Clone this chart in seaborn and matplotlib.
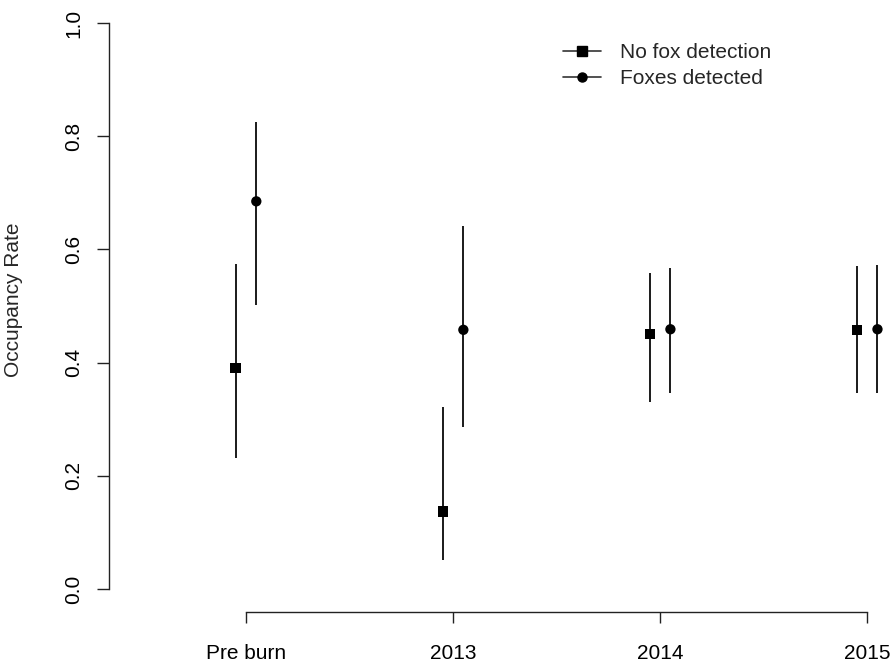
import numpy as np
import pandas as pd
import matplotlib
matplotlib.use("Agg")
import matplotlib.pyplot as plt
from matplotlib.lines import Line2D
import seaborn as sns

# ---- data ----
periods = ["Pre burn", "2013", "2014", "2015"]
groups = ["No fox detection", "Foxes detected"]

nofox_est = [0.390, 0.137, 0.451, 0.458]
nofox_lo = [0.231, 0.051, 0.330, 0.346]
nofox_hi = [0.575, 0.321, 0.558, 0.570]

fox_est = [0.685, 0.458, 0.459, 0.459]
fox_lo = [0.502, 0.287, 0.347, 0.346]
fox_hi = [0.825, 0.641, 0.567, 0.572]

yticks = [0.0, 0.2, 0.4, 0.6, 0.8, 1.0]
ytick_labels = ["0.0", "0.2", "0.4", "0.6", "0.8", "1.0"]
ylabel = "Occupancy Rate"

# ---- table ----
offsets = {"No fox detection": -0.05, "Foxes detected": 0.05}
rows = []
for g, est, lo, hi in [(groups[0], nofox_est, nofox_lo, nofox_hi),
                       (groups[1], fox_est, fox_lo, fox_hi)]:
    for i, p in enumerate(periods):
        rows.append(dict(period=p, group=g, pos=i + 1 + offsets[g],
                         est=est[i], lo=lo[i], hi=hi[i]))
df = pd.DataFrame(rows)

# ---- style ----
sns.set_style("ticks")
plt.rcParams["font.family"] = ["Liberation Sans", "DejaVu Sans"]
FS = 15

W, H = 893, 664
fig = plt.figure(figsize=(W / 100, H / 100), dpi=100)
left_px, bottom_px = 109.3, 611.7
ax = fig.add_axes([left_px / W, 1 - bottom_px / H, (W - left_px) / W, 611.3 / H])

# error bars
ax.vlines(df["pos"], df["lo"], df["hi"], color="#1a1a1a", linewidth=1.4, zorder=2)

# points
sns.scatterplot(data=df, x="pos", y="est", style="group",
                markers={"No fox detection": "s", "Foxes detected": "o"},
                color="black", s=55, edgecolor="none", legend=False,
                ax=ax, zorder=3)

ax.set_xlim(0.34, 4.125)
ax.set_ylim(-0.04, 1.04)

ax.set_xticks(range(1, len(periods) + 1))
ax.set_xticklabels(periods, fontsize=FS)
ax.set_yticks(yticks)
ax.set_yticklabels(ytick_labels, fontsize=FS, rotation=90, va="center")

ax.tick_params(axis="y", length=8.6, width=1.0, pad=10, colors="#222222", labelcolor="black")
ax.tick_params(axis="x", length=8, width=1.0, pad=15.5, colors="#222222", labelcolor="black")

for s in ["top", "right"]:
    ax.spines[s].set_visible(False)
ax.spines["left"].set_bounds(0, 1)
ax.spines["bottom"].set_bounds(1, 4)
for s in ["left", "bottom"]:
    ax.spines[s].set_linewidth(1.0)
    ax.spines[s].set_color("#222222")

ax.set_xlabel("")
ax.set_ylabel(ylabel, fontsize=FS)
ax.yaxis.set_label_coords((23 - left_px) / (W - left_px), (611.7 - 300) / 611.3)

handles = [
    Line2D([0], [0], color="#333333", lw=1.2, marker="s", markersize=7.2,
           markerfacecolor="black", markeredgecolor="black", label=groups[0]),
    Line2D([0], [0], color="#333333", lw=1.2, marker="o", markersize=6.5,
           markerfacecolor="black", markeredgecolor="black", label=groups[1]),
]
fig.legend(handles=handles, loc="upper left",
           bbox_to_anchor=(562.7 / W, 1 - 43 / H),
           frameon=False, fontsize=FS, handlelength=1.85, handletextpad=0.9,
           labelspacing=0.33, borderpad=0, borderaxespad=0)

fig.savefig("out.png", dpi=100, facecolor="white")
